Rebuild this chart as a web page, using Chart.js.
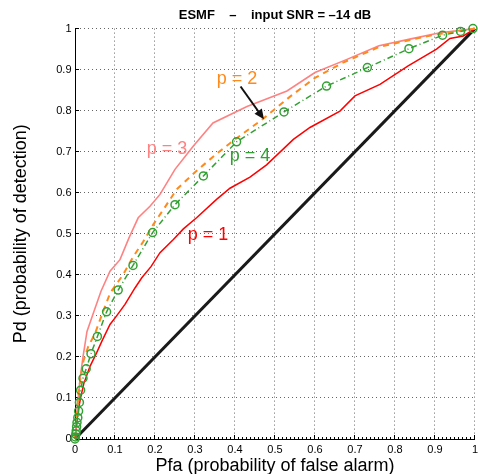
<!DOCTYPE html>
<html><head><meta charset="utf-8">
<script src="https://cdn.jsdelivr.net/npm/chart.js@4.4.1/dist/chart.umd.min.js"></script>
<style>html,body{margin:0;padding:0;background:#fff}</style>
</head><body>
<canvas id="c" width="478" height="474" style="display:block"></canvas>
<script>
// ---- data ----
const titleText = 'ESMF    \u2013    input SNR = \u201314 dB';
const xTitle = 'Pfa (probability of false alarm)';
const yTitle = 'Pd (probability of detection)';
const xTickLabels = ['0','0.1','0.2','0.3','0.4','0.5','0.6','0.7','0.8','0.9','1'];
const yTickLabels = ['0','0.1','0.2','0.3','0.4','0.5','0.6','0.7','0.8','0.9','1'];

// p = 1
const pfa1 = [0, 0.003, 0.008, 0.014, 0.022, 0.0375, 0.054, 0.067, 0.0875, 0.104, 0.125, 0.15, 0.167, 0.19, 0.2125, 0.246, 0.271, 0.304, 0.354, 0.3875, 0.4375, 0.479, 0.546, 0.5875, 0.6625, 0.7, 0.7625, 0.833, 0.904, 0.9375, 0.971, 1];
const pd1  = [0, 0.03, 0.07, 0.1, 0.135, 0.177, 0.21, 0.238, 0.279, 0.3, 0.328, 0.368, 0.393, 0.42, 0.454, 0.486, 0.512, 0.539, 0.584, 0.611, 0.638, 0.668, 0.73, 0.759, 0.799, 0.836, 0.864, 0.909, 0.95, 0.976, 0.982, 1];
// p = 2
const pfa2 = [0, 0.002, 0.005, 0.009, 0.014, 0.021, 0.033, 0.05, 0.07, 0.088, 0.12, 0.146, 0.17, 0.196, 0.225, 0.254, 0.3, 0.354, 0.4, 0.47, 0.54, 0.6, 0.67, 0.76, 0.85, 0.905, 0.95, 1];
const pd2  = [0, 0.03, 0.07, 0.11, 0.15, 0.19, 0.225, 0.257, 0.31, 0.356, 0.4, 0.445, 0.48, 0.523, 0.565, 0.608, 0.65, 0.695, 0.73, 0.78, 0.836, 0.88, 0.917, 0.955, 0.975, 0.986, 0.993, 1];
// p = 3
const pfa3 = [0, 0.002, 0.005, 0.0125, 0.02, 0.03, 0.046, 0.065, 0.0875, 0.1125, 0.135, 0.158, 0.1875, 0.2125, 0.25, 0.296, 0.345, 0.43, 0.53, 0.6, 0.68, 0.76, 0.84, 0.9125, 1];
const pd3  = [0, 0.03, 0.07, 0.145, 0.2, 0.262, 0.307, 0.36, 0.409, 0.437, 0.49, 0.539, 0.567, 0.596, 0.657, 0.714, 0.77, 0.81, 0.848, 0.893, 0.925, 0.958, 0.975, 0.99, 1];
// p = 4
const pfa4 = [0, 0.001, 0.002, 0.003, 0.004, 0.005, 0.007, 0.009, 0.011, 0.014, 0.02, 0.028, 0.04, 0.056, 0.079, 0.108, 0.145, 0.194, 0.25, 0.321, 0.404, 0.5225, 0.629, 0.731, 0.835, 0.919, 0.964, 0.995];
const pd4  = [0, 0.005, 0.012, 0.02, 0.03, 0.04, 0.052, 0.068, 0.089, 0.119, 0.148, 0.171, 0.208, 0.25, 0.31, 0.363, 0.423, 0.503, 0.571, 0.641, 0.724, 0.797, 0.86, 0.905, 0.951, 0.984, 0.993, 1.0];
// chance line
const pfa0 = [0, 1];
const pd0  = [0, 1];

// curve labels (data coordinates)
const labelTexts = ['p = 1', 'p = 2', 'p = 3', 'p = 4'];
const labelX = [0.3325, 0.405, 0.23, 0.4375];
const labelY = [0.498, 0.876, 0.706, 0.689];
// arrow from "p = 2" to its curve (data coordinates)
const arrowFrom = [0.414, 0.859];
const arrowTo = [0.4725, 0.779];

// ---- styles ----
const FONT = '"Liberation Sans", Arial, Helvetica, sans-serif';
const C1 = '#ff0000', C2 = '#ff8a1c', C3 = '#ff8282', C4 = '#33a033';
const labelColors = [C1, C2, C3, C4];

const pts = (xs, ys) => xs.map((x, i) => ({x, y: ys[i]}));

const datasets = [
  {data: pts(pfa4, pd4), borderColor: C4, borderWidth: 1.5, borderDash: [6,3,1,3], pointRadius: 4, pointBorderWidth: 1.5, pointBorderColor: C4, pointBackgroundColor: 'rgba(0,0,0,0)', order: 0},
  {data: pts(pfa2, pd2), borderColor: C2, borderWidth: 2, borderDash: [6,5], pointRadius: 0, order: 1},
  {data: pts(pfa3, pd3), borderColor: C3, borderWidth: 1.6, pointRadius: 0, order: 2},
  {data: pts(pfa1, pd1), borderColor: C1, borderWidth: 1.5, pointRadius: 0, order: 3},
  {data: pts(pfa0, pd0), borderColor: '#1a1a1a', borderWidth: 3, pointRadius: 0, order: 4},
];
datasets.forEach(d => { d.showLine = true; d.fill = false; d.tension = 0; d.clip = 6; d.pointHoverRadius = d.pointRadius; });

const annotate = {
  id: 'annotate',
  afterDatasetsDraw(chart) {
    const {ctx, scales: {x, y}} = chart;
    ctx.save();
    ctx.font = '18px ' + FONT;
    ctx.textAlign = 'center';
    ctx.textBaseline = 'middle';
    labelTexts.forEach((t, i) => {
      ctx.fillStyle = labelColors[i];
      ctx.fillText(t, x.getPixelForValue(labelX[i]), y.getPixelForValue(labelY[i]));
    });
    const x1 = x.getPixelForValue(arrowFrom[0]), y1 = y.getPixelForValue(arrowFrom[1]);
    const x2 = x.getPixelForValue(arrowTo[0]), y2 = y.getPixelForValue(arrowTo[1]);
    const a = Math.atan2(y2 - y1, x2 - x1), L = 10, W = 4.5;
    ctx.strokeStyle = '#111'; ctx.fillStyle = '#111'; ctx.lineWidth = 2;
    ctx.beginPath(); ctx.moveTo(x1, y1);
    ctx.lineTo(x2 - (L - 2) * Math.cos(a), y2 - (L - 2) * Math.sin(a)); ctx.stroke();
    ctx.beginPath(); ctx.moveTo(x2, y2);
    ctx.lineTo(x2 - L * Math.cos(a) - W * Math.sin(a), y2 - L * Math.sin(a) + W * Math.cos(a));
    ctx.lineTo(x2 - L * Math.cos(a) + W * Math.sin(a), y2 - L * Math.sin(a) - W * Math.cos(a));
    ctx.closePath(); ctx.fill();
    ctx.restore();
  }
};

Chart.defaults.font.family = FONT;
Chart.defaults.color = '#000';

// helper axes that only draw the inward tick marks along the bottom axis
const tickAxis = (step, len, weight) => ({
  type: 'linear', position: 'bottom', min: 0, max: 1, weight,
  ticks: {display: false, stepSize: step, padding: 0},
  grid: {drawOnChartArea: false, tickLength: len, tickColor: '#000', tickWidth: 1},
  border: {display: false},
  afterFit(s) { s.height = 0; s.paddingLeft = 0; s.paddingRight = 0; }
});

new Chart(document.getElementById('c'), {
  type: 'scatter',
  data: {datasets},
  plugins: [annotate],
  options: {
    responsive: false, animation: false, devicePixelRatio: 1,
    layout: {autoPadding: false, padding: {left: 0, right: 0, top: 0, bottom: 0}},
    plugins: {
      legend: {display: false}, tooltip: {enabled: false},
      title: {display: true, text: titleText, fullSize: false, color: '#000',
              font: {size: 13, weight: 'bold', family: FONT}, padding: {top: 8, bottom: 5}}
    },
    scales: {
      xmin: tickAxis(0.01, -2, -2),
      xmaj: tickAxis(0.1, -4, -1),
      x: {type: 'linear', position: 'bottom', min: 0, max: 1,
          ticks: {stepSize: 0.1, autoSkip: false, maxRotation: 0, padding: 0, color: '#000',
                  font: {size: 11}, callback: (v, i) => xTickLabels[i]},
          grid: {color: 'rgba(0,0,0,0.6)', lineWidth: 1, tickLength: 4, tickColor: 'rgba(0,0,0,0)', tickWidth: 1},
          border: {display: true, color: '#000', width: 1, dash: [1, 3]},
          title: {display: true, text: xTitle, color: '#000', font: {size: 18, lineHeight: 1.2}, padding: {top: 0, bottom: -3}},
          afterFit(s) { s.height = 35; }},
      y: {type: 'linear', position: 'left', min: 0, max: 1,
          ticks: {stepSize: 0.1, autoSkip: false, padding: 7.5, color: '#000',
                  font: {size: 11}, callback: (v, i) => yTickLabels[i]},
          grid: {color: 'rgba(0,0,0,0.6)', lineWidth: 1, tickLength: -4, tickColor: '#000', tickWidth: 1},
          border: {display: true, color: '#000', width: 1, dash: [1, 3]},
          title: {display: true, text: yTitle, color: '#000', font: {size: 18, lineHeight: 1.2}, padding: {top: 10, bottom: 0}},
          afterFit(s) { s.width = 75; }}
    }
  }
});
</script>
</body></html>
